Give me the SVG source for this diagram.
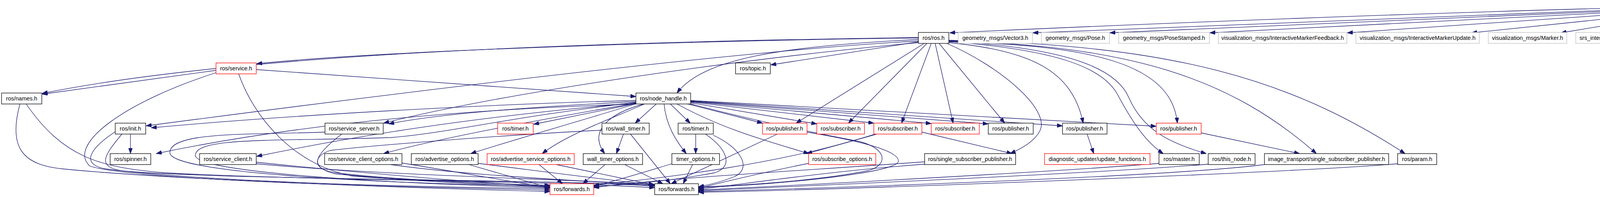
<svg xmlns="http://www.w3.org/2000/svg" width="6299" height="504" viewBox="0 0 6299 504">
<style>
.n{fill:#fff;stroke:#000;stroke-width:1.3}
.g{fill:#fff;stroke:#bfbfbf;stroke-width:1.3}
.r{fill:#fff;stroke:#ff0000;stroke-width:1.3}
.root{fill:#bfbfbf;stroke:#000;stroke-width:1.3}
text{font-family:"Liberation Sans",Arial,sans-serif;font-size:14.5px;text-anchor:middle;fill:#000}
.e path{fill:none;stroke:#191970;stroke-width:1.3;marker-end:url(#a)}
</style>
<defs>
<marker id="a" markerUnits="userSpaceOnUse" markerWidth="14" markerHeight="10" refX="14" refY="5" orient="auto"><path d="M0,0 L14,5 L0,10 z" fill="#191970" stroke="#191970" stroke-width="1"/></marker>
</defs>
<rect width="6299" height="504" fill="#fff"/>
<g class="e" id="connectors">
<path d="M4326,16 C3700,30 2900,62 2431,84"/>
<path d="M4326,18 L2644,84"/>
<path d="M4326,20 L2841,84"/>
<path d="M4326,22 L3097,84"/>
<path d="M4326,24 L3449,84"/>
<path d="M4326,26 L3767,84"/>
<path d="M4326,29 L3996,84"/>
<path d="M4343,34 L4219,83"/>
<path d="M4416,34 L4540,83"/>
<path d="M4431,27 L4823,85"/>
<path d="M4431,25 L4979,85"/>
<path d="M4431,23 L5165,85"/>
<path d="M4431,21 L5280,85"/>
<path d="M4431,20 L5429,84"/>
<path d="M4431,19 L5754,84"/>
<path d="M4431,18 L6110,84"/>
<path d="M5060,111 L5060,161"/>
<path d="M2351,97 C1800,104 1000,128 657,163"/>
<path d="M2351,96 C1300,110 550,150 108,239"/>
<path d="M2351,101 C2000,118 1800,150 1733,238"/>
<path d="M2351,107 L1973,166"/>
<path d="M2351,105 C1900,128 1000,240 374,322"/>
<path d="M2351,109 C1900,150 1300,235 982,315"/>
<path d="M2366,111 L2038,315"/>
<path d="M2373,111 L2172,315"/>
<path d="M2384,111 L2308,315"/>
<path d="M2394,111 L2440,315"/>
<path d="M2404,111 L2572,315"/>
<path d="M2424,111 C2560,170 2690,280 2662,335 C2648,362 2615,380 2586,393"/>
<path d="M2429,109 C2640,130 2745,180 2773,315"/>
<path d="M2429,107 C2800,115 3000,165 3014,315"/>
<path d="M2429,106 C2700,128 2820,170 2860,240 C2900,315 2935,365 2978,393"/>
<path d="M2429,105 C2750,124 2860,180 2890,250 C2925,330 2990,365 3088,393"/>
<path d="M2429,104 C2900,118 3150,200 3370,393"/>
<path d="M2429,103 C3000,115 3300,200 3597,393"/>
<path d="M553,180 L108,241"/>
<path d="M656,178 L1628,247"/>
<path d="M611,189 C650,300 750,420 900,450 C1100,468 1400,460 1676,476"/>
<path d="M553,186 C320,260 170,370 230,425 C350,462 1000,478 1408,486"/>
<path d="M51,266 C20,380 60,422 160,432 C420,458 1000,480 1408,490"/>
<path d="M67,266 C160,400 250,428 420,442 C800,462 1300,460 1676,480"/>
<path d="M334,343 L334,393"/>
<path d="M295,337 C230,380 205,420 270,432 C500,463 1000,478 1408,482"/>
<path d="M312,343 C265,400 245,428 320,438 C600,460 1300,458 1676,474"/>
<path d="M1628,257 C1200,268 700,298 387,327"/>
<path d="M1628,266 C1100,282 700,330 400,393"/>
<path d="M1628,260 C1300,276 1100,296 995,317"/>
<path d="M1628,263 C1200,300 900,350 657,400"/>
<path d="M1628,264 C1300,320 1100,360 982,393"/>
<path d="M1630,265 C1450,320 1300,362 1205,393"/>
<path d="M1650,266 C1550,310 1450,345 1388,393"/>
<path d="M1628,265 L1366,318"/>
<path d="M1680,266 L1626,315"/>
<path d="M1716,266 L1767,315"/>
<path d="M1648,266 C1560,290 1505,335 1548,393"/>
<path d="M1700,266 C1705,320 1730,360 1757,393"/>
<path d="M1757,265 L1952,315"/>
<path d="M1768,263 L2091,317"/>
<path d="M1768,261 L2237,315"/>
<path d="M1768,260 L2384,316"/>
<path d="M1768,259 L2530,317"/>
<path d="M1768,258 L2720,322"/>
<path d="M1768,257 L2960,323"/>
<path d="M1733,266 C1850,330 1960,360 2071,393"/>
<path d="M1628,262 C1300,300 1150,340 1000,352 C700,362 500,350 500,398 C505,442 1000,470 1408,480"/>
<path d="M1768,266 C1900,300 2030,330 2200,362 C2270,380 2275,420 2225,436 C2100,462 1900,475 1788,478"/>
<path d="M832,338 C650,345 430,335 435,392 C445,440 900,468 1408,476"/>
<path d="M875,343 C800,400 790,432 860,442 C1000,460 1300,472 1408,474"/>
<path d="M656,415 C900,440 1200,466 1408,478"/>
<path d="M656,419 C1000,450 1400,456 1676,472"/>
<path d="M1029,417 C1200,445 1350,472 1408,480"/>
<path d="M1000,421 C1200,450 1500,462 1676,475"/>
<path d="M1200,421 L1408,481"/>
<path d="M1224,418 C1400,440 1550,460 1676,473"/>
<path d="M1380,421 L1440,470"/>
<path d="M1424,421 L1674,473"/>
<path d="M1596,343 L1578,393"/>
<path d="M1614,343 L1716,470"/>
<path d="M1541,333 C1300,345 950,372 845,385 C800,400 800,432 860,445 C1100,468 1350,476 1408,478"/>
<path d="M1549,421 L1492,470"/>
<path d="M1599,421 L1697,470"/>
<path d="M1781,343 L1781,393"/>
<path d="M1806,343 C1860,380 1880,425 1830,442 C1700,466 1600,472 1520,478"/>
<path d="M1826,346 C1900,380 1925,432 1880,452 C1850,464 1820,472 1788,478"/>
<path d="M1720,419 C1650,440 1580,462 1520,476"/>
<path d="M1773,421 L1749,470"/>
<path d="M1990,343 L1718,470"/>
<path d="M2066,338 C2200,360 2300,385 2300,412 C2300,442 2000,472 1788,480"/>
<path d="M2245,343 L2065,393"/>
<path d="M2240,343 C2000,420 1700,455 1520,474"/>
<path d="M2360,338 L2591,393"/>
<path d="M2070,418 C1950,442 1850,466 1788,482"/>
<path d="M2367,414 C2000,440 1700,456 1520,480"/>
<path d="M2367,420 C2100,440 1900,472 1788,484"/>
<path d="M2783,343 L2800,393"/>
<path d="M3075,340 L3327,393"/>
<path d="M2967,418 C2700,440 2000,476 1788,486"/>
<path d="M3093,420 C2800,445 2000,478 1788,488"/>
<path d="M3237,421 C3000,452 2100,482 1788,490"/>
<path d="M3578,419 C3300,442 2200,484 1788,492"/>
</g>
<g id="n1"><rect class="root" x="4326" y="6" width="105" height="28"/><text x="4378.5" y="25">bb_overlap.h</text></g>
<g id="n2"><rect class="n" x="2351" y="83" width="78" height="28"/><text x="2390" y="102">ros/ros.h</text></g>
<g id="n3"><rect class="g" x="2453" y="83" width="190" height="28"/><text x="2548" y="102">geometry_msgs/Vector3.h</text></g>
<g id="n4"><rect class="g" x="2666" y="83" width="174" height="28"/><text x="2753" y="102">geometry_msgs/Pose.h</text></g>
<g id="n5"><rect class="g" x="2864" y="83" width="232" height="28"/><text x="2980" y="102">geometry_msgs/PoseStamped.h</text></g>
<g id="n6"><rect class="g" x="3119" y="83" width="329" height="28"/><text x="3283.5" y="102">visualization_msgs/InteractiveMarkerFeedback.h</text></g>
<g id="n7"><rect class="g" x="3471" y="83" width="316" height="28"/><text x="3629" y="102">visualization_msgs/InteractiveMarkerUpdate.h</text></g>
<g id="n8"><rect class="g" x="3810" y="83" width="201" height="28"/><text x="3910.5" y="102">visualization_msgs/Marker.h</text></g>
<g id="n9"><rect class="g" x="4034" y="83" width="294" height="28"/><text x="4181" y="102">srs_interaction_primitives/ScaleChanged.h</text></g>
<g id="n10"><rect class="n" x="4351" y="83" width="449" height="28"/><text x="4575.5" y="102">srs_assisted_arm_navigation_msgs/AssistedArmNavigationState.h</text></g>
<g id="n11"><rect class="g" x="4823" y="83" width="132" height="28"/><text x="4889" y="102">boost/thread.hpp</text></g>
<g id="n12"><rect class="n" x="4979" y="83" width="162" height="28"/><text x="5060" y="102">tf/transform_listener.h</text></g>
<g id="n13"><rect class="g" x="5165" y="83" width="91" height="28"/><text x="5210.5" y="102">Eigen/Core</text></g>
<g id="n14"><rect class="g" x="5280" y="83" width="125" height="28"/><text x="5342.5" y="102">Eigen/Geometry</text></g>
<g id="n15"><rect class="g" x="5429" y="83" width="302" height="28"/><text x="5580" y="102">boost/date_time/posix_time/posix_time.hpp</text></g>
<g id="n16"><rect class="n" x="5754" y="83" width="332" height="28"/><text x="5920" y="102">interactive_markers/interactive_marker_server.h</text></g>
<g id="n17"><rect class="g" x="6110" y="83" width="185" height="28"/><text x="6202.5" y="102">srs_user_tests/SetFloat.h</text></g>
<g id="n18"><rect class="r" x="553" y="161" width="103" height="28"/><text x="604.5" y="180">ros/service.h</text></g>
<g id="n19"><rect class="n" x="1883" y="161" width="89" height="28"/><text x="1927.5" y="180">ros/topic.h</text></g>
<g id="n20"><rect class="r" x="5033" y="161" width="54" height="28"/><text x="5060" y="180">tf/tf.h</text></g>
<g id="n21"><rect class="n" x="4" y="238" width="103" height="28"/><text x="55.5" y="257">ros/names.h</text></g>
<g id="n22"><rect class="n" x="1628" y="238" width="140" height="28"/><text x="1698" y="257">ros/node_handle.h</text></g>
<g id="n23"><rect class="n" x="295" y="315" width="78" height="28"/><text x="334" y="334">ros/init.h</text></g>
<g id="n24"><rect class="n" x="832" y="315" width="149" height="28"/><text x="906.5" y="334">ros/service_server.h</text></g>
<g id="n25"><rect class="r" x="1274" y="315" width="91" height="28"/><text x="1319.5" y="334">ros/timer.h</text></g>
<g id="n26"><rect class="n" x="1541" y="315" width="121" height="28"/><text x="1601.5" y="334">ros/wall_timer.h</text></g>
<g id="n27"><rect class="n" x="1736" y="315" width="90" height="28"/><text x="1781" y="334">ros/timer.h</text></g>
<g id="n28"><rect class="r" x="1952" y="315" width="114" height="28"/><text x="2009" y="334">ros/publisher.h</text></g>
<g id="n29"><rect class="r" x="2091" y="315" width="122" height="28"/><text x="2152" y="334">ros/subscriber.h</text></g>
<g id="n30"><rect class="r" x="2237" y="315" width="123" height="28"/><text x="2298.5" y="334">ros/subscriber.h</text></g>
<g id="n31"><rect class="r" x="2384" y="315" width="123" height="28"/><text x="2445.5" y="334">ros/subscriber.h</text></g>
<g id="n32"><rect class="n" x="2530" y="315" width="115" height="28"/><text x="2587.5" y="334">ros/publisher.h</text></g>
<g id="n33"><rect class="n" x="2720" y="315" width="114" height="28"/><text x="2777" y="334">ros/publisher.h</text></g>
<g id="n34"><rect class="r" x="2960" y="315" width="115" height="28"/><text x="3017.5" y="334">ros/publisher.h</text></g>
<g id="n35"><rect class="n" x="282" y="393" width="104" height="28"/><text x="334" y="412">ros/spinner.h</text></g>
<g id="n36"><rect class="n" x="511" y="393" width="145" height="28"/><text x="583.5" y="412">ros/service_client.h</text></g>
<g id="n37"><rect class="n" x="831" y="393" width="198" height="28"/><text x="930" y="412">ros/service_client_options.h</text></g>
<g id="n38"><rect class="n" x="1053" y="393" width="171" height="28"/><text x="1138.5" y="412">ros/advertise_options.h</text></g>
<g id="n39"><rect class="r" x="1247" y="393" width="223" height="28"/><text x="1358.5" y="412">ros/advertise_service_options.h</text></g>
<g id="n40"><rect class="n" x="1493" y="393" width="152" height="28"/><text x="1569" y="412">wall_timer_options.h</text></g>
<g id="n41"><rect class="n" x="1720" y="393" width="122" height="28"/><text x="1781" y="412">timer_options.h</text></g>
<g id="n42"><rect class="r" x="2070" y="393" width="172" height="28"/><text x="2156" y="412">ros/subscribe_options.h</text></g>
<g id="n43"><rect class="n" x="2367" y="393" width="233" height="28"/><text x="2483.5" y="412">ros/single_subscriber_publisher.h</text></g>
<g id="n44"><rect class="r" x="2674" y="393" width="270" height="28"/><text x="2809" y="412">diagnostic_updater/update_functions.h</text></g>
<g id="n45"><rect class="n" x="2967" y="393" width="103" height="28"/><text x="3018.5" y="412">ros/master.h</text></g>
<g id="n46"><rect class="n" x="3093" y="393" width="120" height="28"/><text x="3153" y="412">ros/this_node.h</text></g>
<g id="n47"><rect class="n" x="3237" y="393" width="318" height="28"/><text x="3396" y="412">image_transport/single_subscriber_publisher.h</text></g>
<g id="n48"><rect class="n" x="3578" y="393" width="100" height="28"/><text x="3628" y="412">ros/param.h</text></g>
<g id="n49"><rect class="r" x="1408" y="470" width="112" height="28"/><text x="1464" y="489">ros/forwards.h</text></g>
<g id="n50"><rect class="n" x="1676" y="470" width="112" height="28"/><text x="1732" y="489">ros/forwards.h</text></g>
</svg>
